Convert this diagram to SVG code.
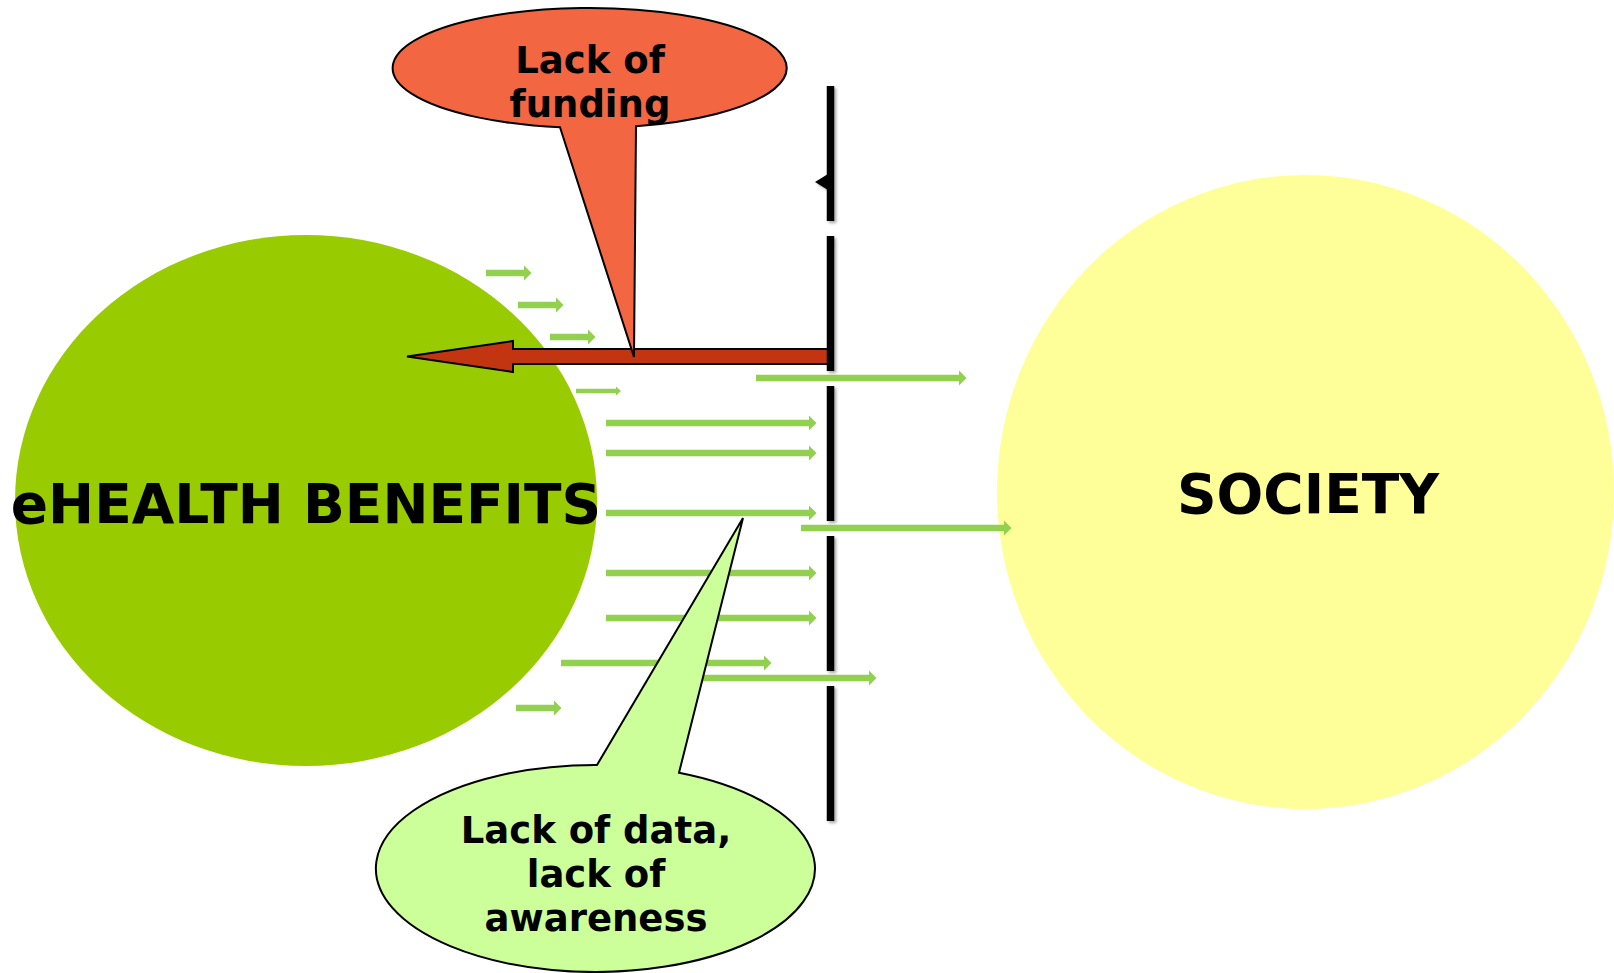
<svg xmlns="http://www.w3.org/2000/svg" width="1614" height="973" viewBox="0 0 1614 973">
<style>
.lbl{font-family:"DejaVu Sans","Verdana",sans-serif;font-weight:bold;fill:#000;text-anchor:middle}
.big{font-size:55px}
.cl{font-size:37px}
.ga{stroke:#92D050;stroke-width:6.7;fill:none}
.gt{stroke:#92D050;stroke-width:4.3;fill:none}
</style>
<defs>
<marker id="ah" markerUnits="userSpaceOnUse" markerWidth="8" markerHeight="16" refX="0" refY="7.5" orient="auto" overflow="visible">
<path d="M0,0 L7.5,7.5 L0,15 Z" fill="#92D050"/>
</marker>
<marker id="aht" markerUnits="userSpaceOnUse" markerWidth="6" markerHeight="10" refX="0" refY="4.5" orient="auto" overflow="visible">
<path d="M0,0 L5,4.5 L0,9 Z" fill="#92D050"/>
</marker>
<filter id="sh" x="-2" y="-0.1" width="5" height="1.2">
<feGaussianBlur in="SourceAlpha" stdDeviation="1.5"/>
<feOffset dx="2" dy="2" result="b"/>
<feComponentTransfer><feFuncA type="linear" slope="0.35"/></feComponentTransfer>
<feMerge><feMergeNode/><feMergeNode in="SourceGraphic"/></feMerge>
</filter>
</defs>

<g id="ehealth">
<ellipse cx="306" cy="500.5" rx="291" ry="265.5" fill="#99CC00"/>
<text class="lbl big" x="306" y="523">eHEALTH BENEFITS</text>
</g>

<g id="society">
<ellipse cx="1305.5" cy="492" rx="308.5" ry="317" fill="#FFFF99"/>
<text class="lbl big" x="1308" y="513">SOCIETY</text>
</g>

<g id="connectors">
<line class="ga" x1="486" y1="273" x2="524" y2="273" marker-end="url(#ah)"/>
<line class="ga" x1="518" y1="305" x2="556" y2="305" marker-end="url(#ah)"/>
<line class="ga" x1="550" y1="337" x2="588" y2="337" marker-end="url(#ah)"/>
<line class="gt" x1="576" y1="391" x2="616" y2="391" marker-end="url(#aht)"/>
<line class="ga" x1="606" y1="423" x2="809" y2="423" marker-end="url(#ah)"/>
<line class="ga" x1="606" y1="453" x2="809" y2="453" marker-end="url(#ah)"/>
<line class="ga" x1="606" y1="513" x2="809" y2="513" marker-end="url(#ah)"/>
<line class="ga" x1="606" y1="573" x2="809" y2="573" marker-end="url(#ah)"/>
<line class="ga" x1="606" y1="618" x2="809" y2="618" marker-end="url(#ah)"/>
<line class="ga" x1="561" y1="663" x2="764" y2="663" marker-end="url(#ah)"/>
<line class="ga" x1="516" y1="708" x2="554" y2="708" marker-end="url(#ah)"/>
<line class="ga" x1="756" y1="378" x2="959" y2="378" marker-end="url(#ah)"/>
<line class="ga" x1="801" y1="528" x2="1004" y2="528" marker-end="url(#ah)"/>
<line class="ga" x1="680" y1="678" x2="869" y2="678" marker-end="url(#ah)"/>
<path id="red-arrow" d="M830,349 L513,349 L513,341 L407,356.5 L513,372 L513,364 L830,364 Z" fill="#C33511" stroke="#000" stroke-width="2" stroke-linejoin="miter"/>
</g>

<g id="funding">
<path d="M560,127.3 L634,357 L636,126.3 A197,60 0 1,0 560,127.3 Z" fill="#F26641" stroke="#000" stroke-width="2"/>
<text class="lbl cl" x="590" y="73">Lack of</text>
<text class="lbl cl" x="590" y="117">funding</text>
</g>

<g id="data">
<path d="M597,765 L743,518 L679,772.8 A219.5,103.5 0 1,1 597,765 Z" fill="#CCFF99" stroke="#000" stroke-width="2"/>
<text class="lbl cl" x="596" y="843">Lack of data,</text>
<text class="lbl cl" x="596" y="887">lack of</text>
<text class="lbl cl" x="596" y="931">awareness</text>
</g>

<g id="barrier" filter="url(#sh)">
<line x1="830.5" y1="86" x2="830.5" y2="821" stroke="#000" stroke-width="7.5" stroke-dasharray="135 15"/>
<polygon points="815,182 828,174 828,190" fill="#000"/>
</g>
</svg>
